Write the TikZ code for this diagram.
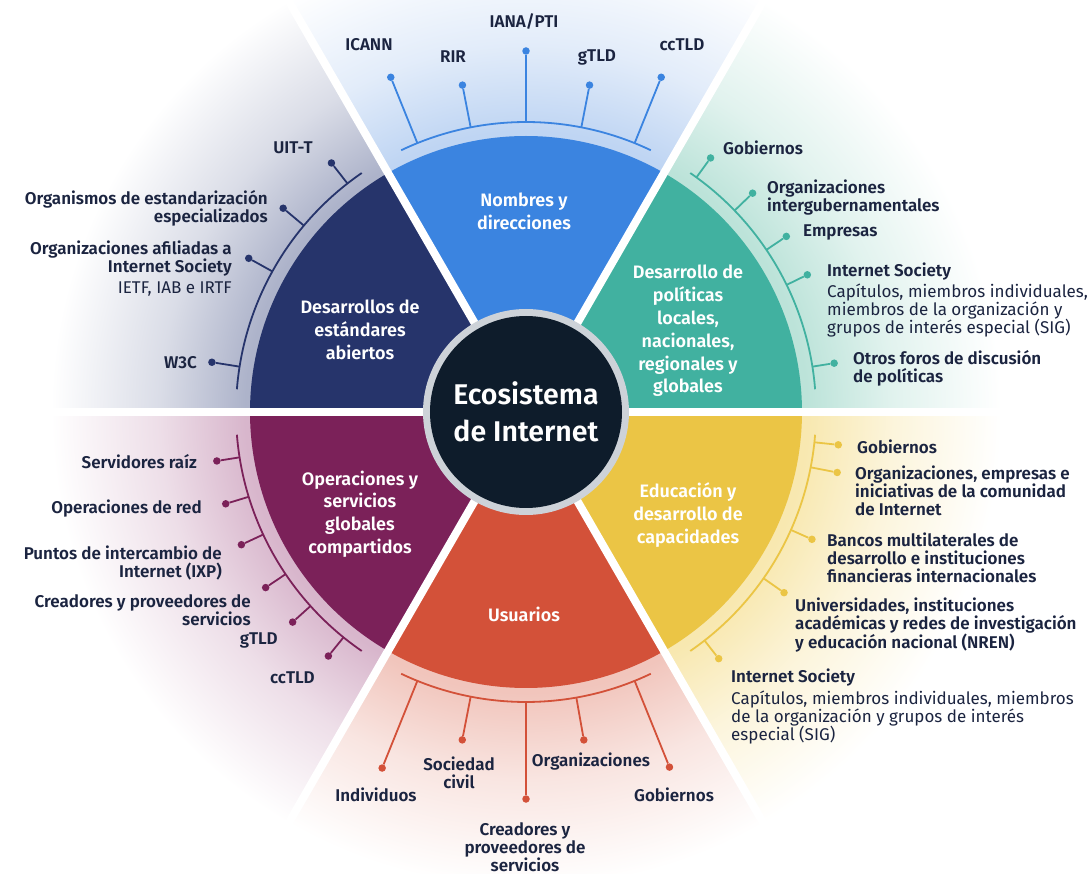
\documentclass[tikz,border=0pt]{standalone}
\usepackage{fontspec}
\setmainfont{Fira Sans}[BoldFont={Fira Sans SemiBold}]
\usetikzlibrary{positioning}
\definecolor{inkdark}{HTML}{1B2440}
\definecolor{hubdark}{HTML}{0E1C2B}
\definecolor{hubring}{HTML}{CDD2D8}
\definecolor{namesblue}{HTML}{3B84E0}
\definecolor{stdnavy}{HTML}{26346B}
\definecolor{policyteal}{HTML}{41B1A0}
\definecolor{eduyellow}{HTML}{EBC545}
\definecolor{usersred}{HTML}{D35139}
\definecolor{opspurple}{HTML}{7B2159}
\definecolor{tintblue}{HTML}{BFD5F3}
\definecolor{tintnavy}{HTML}{ADB3CA}
\definecolor{tintteal}{HTML}{BCE3D9}
\definecolor{tintyellow}{HTML}{F8E8B0}
\definecolor{tintred}{HTML}{F1C5BC}
\definecolor{tintpurple}{HTML}{D8B6CC}
\colorlet{sectint}{white}
\pgfdeclareradialshading[sectint]{sectfade}{\pgfpoint{0bp}{0bp}}{color(0bp)=(sectint); color(13bp)=(sectint); color(17bp)=(sectint!45!white); color(22bp)=(white); color(50bp)=(white)}
\newcommand\lblfont{\fontsize{17}{18}\selectfont}
\newcommand\secfont{\fontsize{18}{22.8}\selectfont}

\begin{document}
\begin{tikzpicture}[x=1pt, y=1pt, every node/.style={inner sep=0pt, text=inkdark},
  item/.style={font=\bfseries\lblfont},
  note/.style={font=\lblfont},
  sector/.style={text=white, font=\bfseries\secfont, align=center},
  knob/.style={circle, fill=#1, minimum size=7.5pt},
  spoke/.style={draw=#1, line width=1.8pt},
  rim/.style={draw=#1, line width=1.8pt}]
  \useasboundingbox (-526,-462) rectangle (563,412);

  % sector backgrounds and wedges
  \foreach \a/\tint/\fillc in {60/tintblue/namesblue, 120/tintnavy/stdnavy, 0/tintteal/policyteal, -60/tintyellow/eduyellow, -120/tintred/usersred, 180/tintpurple/opspurple} {
    \colorlet{sectint}{\tint}
    \begin{scope}
      \clip (0,0) -- (\a:900) arc[start angle=\a, end angle=\a+60, radius=900] -- cycle;
      \shade[shading=sectfade] (0,0) circle[radius=540];
    \end{scope}
    \fill[\fillc] (0,0) -- (\a:276) arc[start angle=\a, end angle=\a+60, radius=276] -- cycle;
  }
  \foreach \a in {0,60,...,300}
    \draw[white, line width=8pt] (0,0) -- (\a:700);

  \node[circle, fill=hubring, minimum size=206pt] (ring) at (0,0) {};
  \node[circle, fill=hubdark, minimum size=192pt, text=white, align=center, font=\bfseries\fontsize{28.5}{37}\selectfont] (hub) at (0,0) {Ecosistema\\de Internet};

  % rims
  \draw[rim=namesblue] (64.5:290) arc[start angle=64.5, end angle=115.5, radius=290];
  \draw[rim=stdnavy] (124.5:290) arc[start angle=124.5, end angle=175.5, radius=290];
  \draw[rim=policyteal] (4.5:290) arc[start angle=4.5, end angle=55.5, radius=290];
  \draw[rim=eduyellow] (-55.5:290) arc[start angle=-55.5, end angle=-4.5, radius=290];
  \draw[rim=usersred] (-115.5:290) arc[start angle=-115.5, end angle=-64.5, radius=290];
  \draw[rim=opspurple] (184.5:290) arc[start angle=184.5, end angle=235.5, radius=290];

  % spokes
  \foreach \t/\r/\c in {112/361/namesblue, 101/333/namesblue, 90/361/namesblue, 79/333/namesblue, 68/361/namesblue,
      128/316/stdnavy, 140/317/stdnavy, 151/317/stdnavy, 171/318/stdnavy,
      54/314/policyteal, 44/315/policyteal, 34/314/policyteal, 26/313/policyteal, 9/312/policyteal,
      -6/314/eduyellow, -11/317/eduyellow, -24/313/eduyellow, -35/315/eduyellow, -52/313/eduyellow,
      -112/384/usersred, -101/334/usersred, -90/387/usersred, -80/333/usersred, -68/383/usersred,
      189/313/opspurple, 197/314/opspurple, 205/314/opspurple, 214/314/opspurple, 222/314/opspurple, 231/314/opspurple} {
    \coordinate (b\t) at (\t:290);
    \node[knob=\c] (d\t) at (\t:\r) {};
    \draw[spoke=\c] (b\t) -- (d\t);
  }

  % sector titles
  \node[sector] (names) at (-2,201) {Nombres y\\direcciones};
  \node[sector] (stds) at (-166,82) {Desarrollos de\\estándares\\abiertos};
  \node[sector] (policy) at (162,81) {Desarrollo de\\políticas\\locales,\\nacionales,\\regionales y\\globales};
  \node[sector] (edu) at (162,-103) {Educación y\\desarrollo de\\capacidades};
  \node[sector] (users) at (-2,-202) {Usuarios};
  \node[sector] (ops) at (-166,-102) {Operaciones y\\servicios\\globales\\compartidos};

  % names and addresses
  \node[item] (icann) at (-157,367) {ICANN};
  \node[item] (rir) at (-73,355) {RIR};
  \node[item] (iana) at (-2,390) {IANA/PTI};
  \node[item] (gtld) at (71,355) {gTLD};
  \node[item] (cctld) at (156,367) {ccTLD};

  % open standards
  \node[item, anchor=east] (uit) at (-213,264) {UIT-T};
  \node[item, anchor=east, align=right] (sdo) at (-258,204) {Organismos de estandarización\\especializados};
  \node[item, anchor=east, align=right] (isocorg) at (-294,153) {Organizaciones afiliadas a\\Internet Society};
  \node[note, below=5pt of isocorg.south east, anchor=north east] (ietf) {IETF, IAB e IRTF};
  \node[item, anchor=east] (w3c) at (-329,49) {W3C};

  % policy development
  \node[item, anchor=west] (gov1) at (197,264) {Gobiernos};
  \node[item, anchor=west, align=left] (igo) at (241,214.5) {Organizaciones\\intergubernamentales};
  \node[item, anchor=west] (biz) at (277,180) {Empresas};
  \node[item, anchor=west] (isoc1) at (301,140) {Internet Society};
  \node[note, anchor=west, align=left] (isocm1) at (301,101.5) {Capítulos, miembros individuales,\\miembros de la organización y\\grupos de interés especial (SIG)};
  \node[item, anchor=west, align=left] (fora) at (327,43.5) {Otros foros de discusión\\de políticas};

  % education
  \node[item, anchor=west] (gov2) at (331,-35) {Gobiernos};
  \node[item, anchor=west, align=left] (comm) at (329,-79) {Organizaciones, empresas e\\iniciativas de la comunidad\\de Internet};
  \node[item, anchor=west, align=left] (banks) at (301,-146) {Bancos multilaterales de\\desarrollo e instituciones\\financieras internacionales};
  \node[item, anchor=west, align=left] (univ) at (269,-213) {Universidades, instituciones\\académicas y redes de investigación\\y educación nacional (NREN)};
  \node[item, anchor=west] (isoc2) at (205,-266) {Internet Society};
  \node[note, anchor=west, align=left] (isocm2) at (205,-306) {Capítulos, miembros individuales, miembros\\de la organización y grupos de interés\\especial (SIG)};

  % users
  \node[item] (indiv) at (-150,-383) {Individuos};
  \node[item, align=center] (civil) at (-67,-360.5) {Sociedad\\civil};
  \node[item, align=center] (makers1) at (-1,-435) {Creadores y\\proveedores de\\servicios};
  \node[item] (orgs) at (65,-350) {Organizaciones};
  \node[item] (gov3) at (148,-383) {Gobiernos};

  % shared operations
  \node[item, anchor=east] (root) at (-329,-50) {Servidores raíz};
  \node[item, anchor=east] (netops) at (-324,-97) {Operaciones de red};
  \node[item, anchor=east, align=right] (ixp) at (-304,-150.5) {Puntos de intercambio de\\Internet (IXP)};
  \node[item, anchor=east, align=right] (makers2) at (-275,-198.5) {Creadores y proveedores de\\servicios};
  \node[item, anchor=east] (gtld2) at (-248,-228) {gTLD};
  \node[item, anchor=east] (cctld2) at (-211,-266) {ccTLD};
\end{tikzpicture}
\end{document}
